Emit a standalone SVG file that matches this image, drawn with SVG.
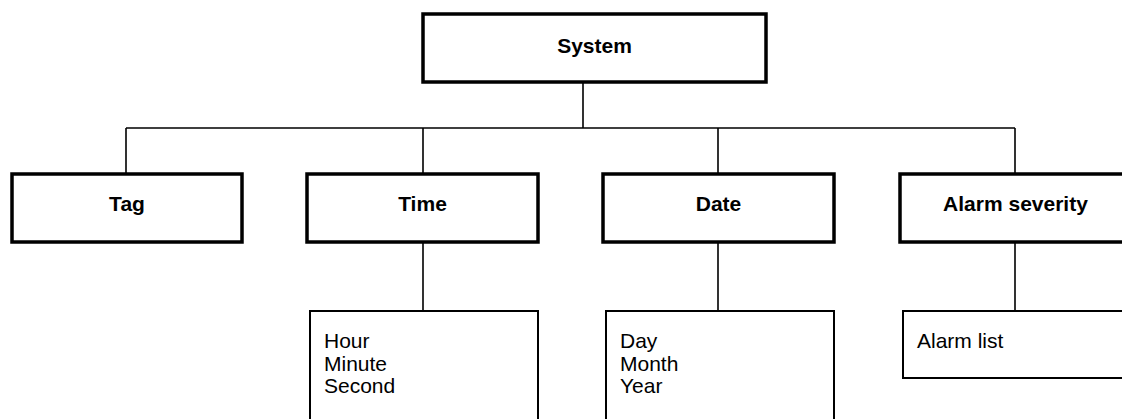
<svg xmlns="http://www.w3.org/2000/svg" width="1122" height="419" viewBox="0 0 1122 419">
<style>
.p{fill:#fff;stroke:#000;stroke-width:3.5}
.c{fill:#fff;stroke:#000;stroke-width:2}
.l{fill:none;stroke:#000;stroke-width:1.6}
.b{font-family:"Liberation Sans",Arial,sans-serif;font-weight:bold;font-size:21px;text-anchor:middle;fill:#000}
.t{font-family:"Liberation Sans",Arial,sans-serif;font-size:21px;fill:#000}
</style>
<rect width="1122" height="419" fill="#fff"/>
<g id="connectors">
<path class="l" d="M583 82V128M126 128H1015M126 128V174M423 128V174M718 128V174M1015 128V174M423 242V311M718 242V311M1015 242V311"/>
</g>
<g id="system"><rect class="p" x="423" y="14" width="343" height="68"/><text class="b" x="594.5" y="53">System</text></g>
<g id="tag"><rect class="p" x="12" y="174" width="230" height="68"/><text class="b" x="127" y="211">Tag</text></g>
<g id="time"><rect class="p" x="307" y="174" width="231" height="68"/><text class="b" x="422.5" y="211">Time</text></g>
<g id="date"><rect class="p" x="603" y="174" width="231" height="68"/><text class="b" x="718.5" y="211">Date</text></g>
<g id="alarm"><rect class="p" x="900" y="174" width="231" height="68"/><text class="b" x="1015.5" y="211">Alarm severity</text></g>
<g id="time-items"><rect class="c" x="310" y="311" width="228" height="120"/><text class="t" x="324" y="348">Hour</text><text class="t" x="324" y="371">Minute</text><text class="t" x="324" y="393">Second</text></g>
<g id="date-items"><rect class="c" x="606" y="311" width="228" height="120"/><text class="t" x="620" y="348">Day</text><text class="t" x="620" y="371">Month</text><text class="t" x="620" y="393">Year</text></g>
<g id="alarm-items"><rect class="c" x="903" y="311" width="228" height="67"/><text class="t" x="917" y="348">Alarm list</text></g>
</svg>
